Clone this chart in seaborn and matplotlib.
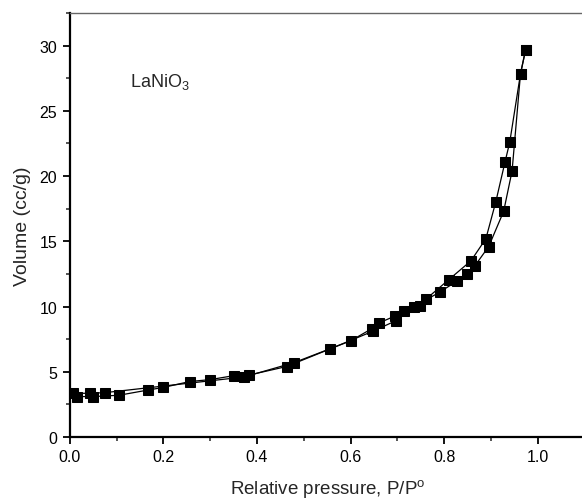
import numpy as np
import pandas as pd
import matplotlib
matplotlib.use("Agg")
import matplotlib.pyplot as plt
from matplotlib.ticker import MultipleLocator
import seaborn as sns

# adsorption branch
ads_p = [0.016, 0.05, 0.105, 0.167, 0.200, 0.256, 0.300, 0.350, 0.383, 0.463,
         0.556, 0.647, 0.696, 0.736, 0.790, 0.828, 0.848, 0.865, 0.895, 0.927,
         0.945, 0.963, 0.974]
ads_v = [3.10, 3.10, 3.20, 3.60, 3.80, 4.25, 4.40, 4.70, 4.75, 5.40,
         6.75, 8.10, 8.90, 10.00, 11.10, 11.97, 12.50, 13.10, 14.60, 17.30,
         20.40, 27.85, 29.70]

# desorption branch
des_p = [0.974, 0.963, 0.940, 0.930, 0.910, 0.889, 0.857, 0.810, 0.762, 0.748,
         0.714, 0.694, 0.661, 0.645, 0.600, 0.479, 0.372, 0.075, 0.043, 0.007]
des_v = [29.70, 27.85, 22.60, 21.10, 18.00, 15.20, 13.50, 12.07, 10.60, 10.05,
         9.65, 9.26, 8.75, 8.30, 7.37, 5.70, 4.60, 3.40, 3.35, 3.35]

sns.set_style("ticks")
plt.rcParams['font.family'] = ['Liberation Sans', 'DejaVu Sans']
plt.rcParams['mathtext.fontset'] = 'custom'
plt.rcParams['mathtext.rm'] = 'Liberation Sans'

fig = plt.figure(figsize=(5.82, 5.02), dpi=100)
ax = fig.add_axes([0.120, 0.1275, 0.8845, 0.8445])

ads = pd.DataFrame({'p': ads_p, 'v': ads_v})
des = pd.DataFrame({'p': des_p, 'v': des_v})
for df in (ads, des):
    sns.lineplot(data=df, x='p', y='v', sort=False, ax=ax, color='black', lw=0.9,
                 marker='s', markersize=7, markeredgecolor='black',
                 markerfacecolor='black', estimator=None)

ax.set_xlim(0, 1.1)
ax.set_ylim(0, 32.5)
ax.xaxis.set_major_locator(MultipleLocator(0.2))
ax.xaxis.set_minor_locator(MultipleLocator(0.1))
ax.yaxis.set_major_locator(MultipleLocator(5))
ax.yaxis.set_minor_locator(MultipleLocator(2.5))
ax.set_xticks([0.0, 0.2, 0.4, 0.6, 0.8, 1.0])
ax.set_xticklabels(['0.0', '0.2', '0.4', '0.6', '0.8', '1.0'])

ax.tick_params(which='major', direction='out', length=5, width=1.3, labelsize=11.5,
               colors='black', pad=4)
ax.tick_params(which='minor', direction='out', length=3, width=1.1)

for s in ('left', 'bottom'):
    ax.spines[s].set_linewidth(1.6)
    ax.spines[s].set_color('black')
ax.spines['right'].set_visible(False)
ax.spines['top'].set_linewidth(1.0)
ax.spines['top'].set_color('#666666')

ax.set_xlabel('Relative pressure, P/P$^\\mathrm{o}$', fontsize=13.5, labelpad=9)
ax.set_ylabel('Volume (cc/g)', fontsize=14, labelpad=6)

ax.text(0.128, 27.3, 'LaNiO$_3$', fontsize=13, va='center', ha='left')

fig.savefig('out.png', dpi=100)
